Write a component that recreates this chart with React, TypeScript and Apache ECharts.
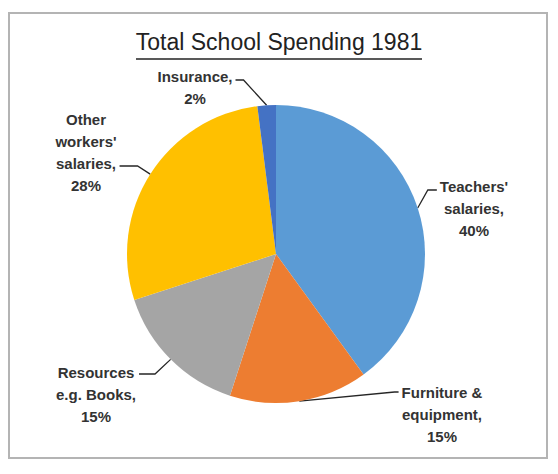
import React, { useEffect, useRef } from "react";
import * as echarts from "echarts";

const categories = [
  "Teachers'\nsalaries,",
  "Furniture &\nequipment,",
  "Resources\ne.g. Books,",
  "Other\nworkers'\nsalaries,",
  "Insurance,",
];
const values = [40, 15, 15, 28, 2];
const colors = ["#5B9BD5", "#ED7D31", "#A5A5A5", "#FFC000", "#4472C4"];

// label placement (layout only): centre of label block, side that faces the pie,
// which text line the leader attaches to, and elbow length
const labelLayoutCfg = [
  { x: 474, y: 208, side: "left", line: 0, elbow: 9, dy: 4 },
  { x: 442, y: 414, side: "left", line: 0, elbow: 4, dy: 0 },
  { x: 96, y: 394, side: "right", line: 0, elbow: 16, dy: 2 },
  { x: 86, y: 152, side: "right", line: 2, elbow: 18, dy: 3 },
  { x: 195, y: 87, side: "right", line: 0, elbow: 8, dy: 4 },
];

const CENTER = [276, 254];
const RADIUS = 149;
const LINE_H = 22;

export default function App() {
  const ref = useRef<HTMLDivElement>(null);
  useEffect(() => {
    if (!ref.current) return;
    const chart = echarts.init(ref.current, undefined, { renderer: "svg" });
    const total = values.reduce((a, b) => a + b, 0);
    const midPoint = (idx: number) => {
      let cum = 0;
      for (let i = 0; i < idx; i++) cum += values[i];
      const frac = (cum + values[idx] / 2) / total;
      const ang = frac * Math.PI * 2;
      return [CENTER[0] + RADIUS * Math.sin(ang), CENTER[1] - RADIUS * Math.cos(ang)];
    };
    chart.setOption({
      animation: false,
      backgroundColor: "#ffffff",
      title: {
        text: "Total School Spending 1981",
        left: "center",
        top: 30,
        padding: 0,
        textStyle: {
          fontFamily: "Liberation Sans",
          fontSize: 23,
          fontWeight: "normal",
          color: "#222222",
        },
      },
      graphic: [
        {
          type: "rect",
          shape: { x: 9, y: 13, width: 538, height: 445 },
          style: { fill: "none", stroke: "#b4b4b4", lineWidth: 2 },
          z: -1,
        },
        {
          type: "line",
          shape: { x1: 136, y1: 59, x2: 422, y2: 59 },
          style: { stroke: "#222222", lineWidth: 1.5 },
        },
      ],
      series: [
        {
          type: "pie",
          center: CENTER,
          radius: RADIUS,
          startAngle: 90,
          clockwise: true,
          avoidLabelOverlap: false,
          data: categories.map((name, i) => ({
            name,
            value: values[i],
            itemStyle: { color: colors[i] },
          })),
          itemStyle: { borderWidth: 0 },
          emphasis: { disabled: true },
          label: {
            show: true,
            position: "outside",
            formatter: (p: any) => `${p.name}\n${p.value}%`,
            fontFamily: "Liberation Sans",
            fontWeight: "bold",
            fontSize: 15,
            lineHeight: LINE_H,
            color: "#333333",
            align: "center",
          },
          labelLine: {
            show: true,
            length: 10,
            length2: 10,
            lineStyle: { color: "#262626", width: 1.3 },
          },
          labelLayout: (params: any) => {
            const i = params.dataIndex;
            const cfg = labelLayoutCfg[i];
            const w = params.labelRect ? params.labelRect.width : 80;
            const nLines = categories[i].split("\n").length + 1;
            const blockTop = cfg.y - (nLines * LINE_H) / 2;
            const ly = blockTop + cfg.line * LINE_H + LINE_H / 2 + cfg.dy;
            const start =
              params.labelLinePoints && params.labelLinePoints[0]
                ? params.labelLinePoints[0]
                : midPoint(i);
            const endX =
              cfg.side === "left" ? cfg.x - w / 2 - 3 : cfg.x + w / 2 + 3;
            const elbowX = cfg.side === "left" ? endX - cfg.elbow : endX + cfg.elbow;
            return {
              x: cfg.x,
              y: cfg.y,
              align: "center",
              verticalAlign: "middle",
              labelLinePoints: [start, [elbowX, ly], [endX, ly]],
            };
          },
        },
      ],
    });
    return () => chart.dispose();
  }, []);
  return (
    <div
      ref={ref}
      style={{ position: "fixed", left: 0, top: 0, width: 558, height: 474, background: "#fff" }}
    />
  );
}
